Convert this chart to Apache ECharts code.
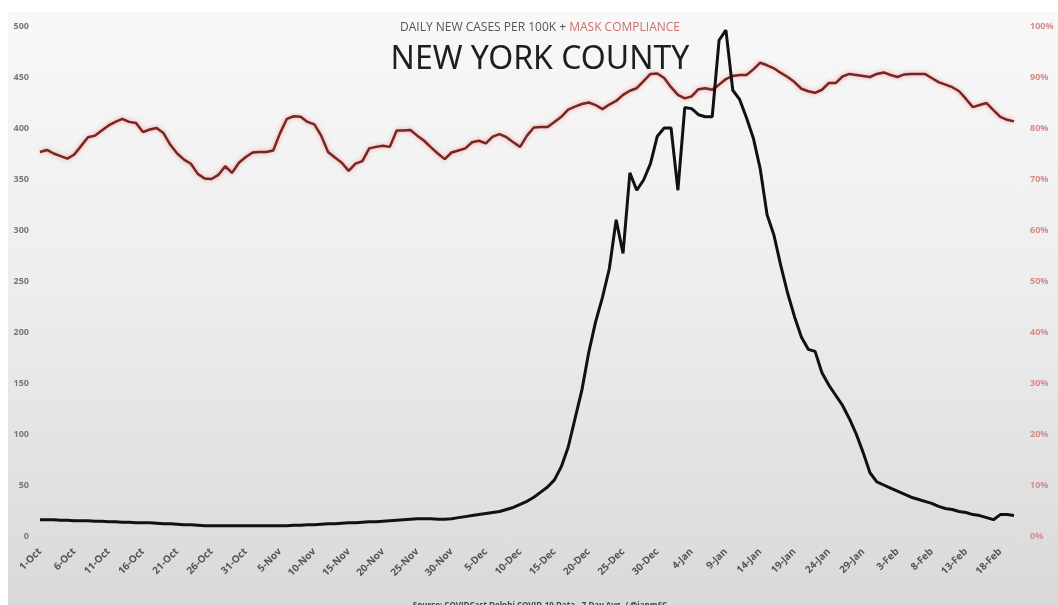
<!DOCTYPE html>
<html>
<head>
<meta charset="utf-8">
<script src="https://cdn.jsdelivr.net/npm/echarts@6/dist/echarts.min.js"></script>
<style>
html,body{margin:0;padding:0;background:#fff;}
#panel{position:absolute;left:8px;top:12px;width:1050px;height:593px;background:linear-gradient(to bottom,#f8f8f8 0%,#eeeeee 45%,#d9d9d9 100%);}
#chart{position:absolute;left:0;top:0;width:1058px;height:605px;}
</style>
</head>
<body>
<div id="panel"></div>
<div id="chart"></div>
<script>
// Daily new cases per 100K (7-day avg), 1-Oct .. 20-Feb
const cases = [
16,16,16,15.5,15.5,15,15,15,14.5,14.5,
14,14,13.5,13.5,13,13,13,12.5,12,12,
11.5,11,11,10.5,10,10,10,10,10,10,
10,10,10,10,10,10,10,10.5,10.5,11,
11,11.5,12,12,12.5,13,13,13.5,14,14,
14.5,15,15.5,16,16.5,17,17,17,16.5,16.5,
17,18,19,20,21,22,23,24,26,28,
31,34,38,43,48,55,68,87,115,143,
180,210,234,262,310,277,356,339,349,365,
392,400,400,339,420,419,413,411,411,486,
496,437,428,410,390,360,315,295,265,238,
215,195,183,181,160,148,138,128,115,100,
82,62,53,50,47,44,41,38,36,34,
32,29,27,26,24,23,21,20,18,16,
21,21,20
];
// Mask compliance (%)
const mask = [
75.3,75.7,75.0,74.5,74.0,74.8,76.5,78.2,78.5,79.5,
80.5,81.2,81.8,81.2,81.0,79.2,79.7,80.0,79.0,76.7,
75.0,73.8,73.0,71.0,70.1,70.0,70.8,72.5,71.2,73.2,
74.3,75.2,75.3,75.3,75.6,79.0,81.8,82.3,82.2,81.2,
80.7,78.5,75.3,74.2,73.2,71.6,73.0,73.5,76.0,76.3,
76.5,76.3,79.5,79.5,79.6,78.5,77.5,76.2,75.0,73.9,
75.2,75.6,76.0,77.2,77.5,77.0,78.3,78.8,78.2,77.2,
76.3,78.5,80.1,80.2,80.2,81.2,82.2,83.6,84.2,84.7,
85.0,84.5,83.7,84.6,85.3,86.5,87.3,87.8,89.2,90.6,
90.7,89.8,88.0,86.5,85.8,86.2,87.6,87.8,87.5,88.5,
89.6,90.2,90.4,90.4,91.5,92.8,92.3,91.7,90.8,90.0,
89.0,87.7,87.2,86.9,87.5,88.8,88.8,90.1,90.6,90.4,
90.2,90.0,90.6,90.9,90.4,90.0,90.5,90.6,90.6,90.6,
89.8,89.0,88.5,88.0,87.2,85.7,84.1,84.5,84.9,83.5,
82.2,81.6,81.3
];
const monthNames = ['Jan','Feb','Mar','Apr','May','Jun','Jul','Aug','Sep','Oct','Nov','Dec'];
const categories = [];
(function(){
  const d = new Date(2021, 9, 1);
  for (let i = 0; i < cases.length; i++) {
    categories.push(d.getDate() + '-' + monthNames[d.getMonth()]);
    d.setDate(d.getDate() + 1);
  }
})();
const leftTicks = {min:0, max:500, interval:50};
const rightTicks = {min:0, max:100, interval:10};

const chart = echarts.init(document.getElementById('chart'), null, {renderer:'canvas'});
chart.setOption({
  backgroundColor:'transparent',
  animation:false,
  title:[
    {text:'{a|DAILY NEW CASES PER 100K + }{b|MASK COMPLIANCE}', left:535, textAlign:'center', top:17,
     textStyle:{rich:{a:{fontFamily:'Open Sans',fontSize:12,color:'#555',fontWeight:'normal'},b:{fontFamily:'Open Sans',fontSize:12,color:'#cc7070',fontWeight:'normal'}}}},
    {text:'NEW YORK COUNTY', left:535, textAlign:'center', top:39,
     textStyle:{fontFamily:'Noto Sans',fontSize:32,color:'#1e1e1e',fontWeight:'normal'}},
    {text:'Source: COVIDCast Delphi COVID-19 Data - 7 Day Avg. / @ianmSC', left:535, textAlign:'center', top:597,
     textStyle:{fontFamily:'Open Sans',fontSize:8,color:'#444',fontWeight:'bold'}}
  ],
  grid:{left:40, right:44, top:26, bottom:69, containLabel:false},
  xAxis:{
    type:'category', data:categories, boundaryGap:false,
    axisLine:{show:false}, axisTick:{show:false}, splitLine:{show:false},
    axisLabel:{interval:4, rotate:45, margin:14, fontFamily:'Open Sans', fontSize:10, fontWeight:'bold', color:'#555'}
  },
  yAxis:[
    {type:'value', min:leftTicks.min, max:leftTicks.max, interval:leftTicks.interval,
     axisLine:{show:false}, axisTick:{show:false}, splitLine:{show:false},
     axisLabel:{margin:11, fontFamily:'Open Sans', fontSize:9, fontWeight:'bold', color:'#777'}},
    {type:'value', min:rightTicks.min, max:rightTicks.max, interval:rightTicks.interval, position:'right',
     axisLine:{show:false}, axisTick:{show:false}, splitLine:{show:false},
     axisLabel:{margin:16, formatter:'{value}%', fontFamily:'Open Sans', fontSize:9, fontWeight:'bold', color:'#d58a8a'}}
  ],
  series:[
    {name:'Mask compliance', type:'line', yAxisIndex:1, data:mask, symbol:'none', smooth:false,
     lineStyle:{color:'#7a2424', width:2.5, shadowColor:'rgba(225,110,110,0.65)', shadowBlur:4}, z:2},
    {name:'Cases', type:'line', yAxisIndex:0, data:cases, symbol:'none', smooth:false,
     lineStyle:{color:'#111', width:3}, z:3}
  ]
});
</script>
</body>
</html>
